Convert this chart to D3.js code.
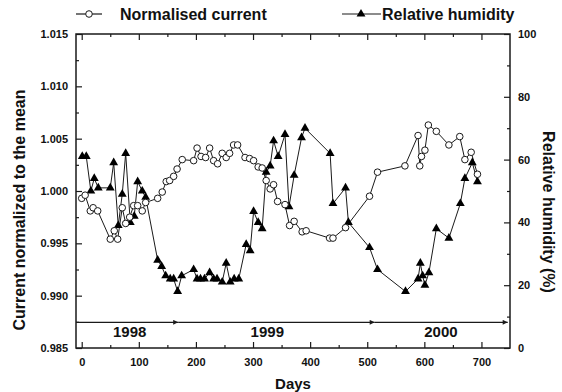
<!DOCTYPE html>
<html>
<head>
<meta charset="utf-8">
<script src="https://cdn.jsdelivr.net/npm/d3@7/dist/d3.min.js"></script>
<style>
  html, body { margin: 0; padding: 0; background: #fff; }
  svg { display: block; }
  text { font-family: "Liberation Sans", Arial, Helvetica, sans-serif; font-weight: bold; fill: #111; }
</style>
</head>
<body>
<svg id="chart" width="562" height="392"></svg>
<script>
// Normalised current (left axis)
const currentDays = [0, 6, 15, 20, 28, 50, 57, 63, 71, 77, 84, 91, 98, 106, 112, 133, 141, 148, 154, 161,
  167, 176, 196, 202, 209, 217, 224, 231, 238, 246, 253, 259, 266, 273, 286, 294, 301, 309, 316, 323,
  330, 336, 343, 356, 364, 372, 386, 393, 434, 440, 462, 504, 518, 566, 589, 592, 595, 601, 607, 621,
  643, 662, 671, 682, 693];
const currentValues = [0.9993, 0.9996, 0.9981, 0.9984, 0.9981, 0.9954, 0.9962, 0.9954, 0.9984, 0.9969,
  0.9975, 0.9986, 0.9986, 0.9981, 0.9989, 0.9993, 0.9999, 1.0009, 1.0010, 1.0014,
  1.0021, 1.0030, 1.0029, 1.0041, 1.0033, 1.0032, 1.0041, 1.0029, 1.0026, 1.0036,
  1.0032, 1.0036, 1.0044, 1.0044, 1.0032, 1.0031, 1.0029, 1.0023, 1.0022, 1.0010,
  1.0002, 1.0006, 0.9990, 0.9987, 0.9967, 0.9971, 0.9961, 0.9962, 0.9955, 0.9955,
  0.9965, 0.9995, 1.0018, 1.0024, 1.0053, 1.0024, 1.0033, 1.0039, 1.0063, 1.0057,
  1.0044, 1.0052, 1.0030, 1.0037, 1.0016];

// Relative humidity in % (right axis)
const humidityDays = [1, 8, 16, 22, 29, 50, 56, 64, 71, 77, 85, 92, 98, 106, 112, 133, 140, 147, 155, 161,
  168, 175, 196, 202, 208, 215, 224, 231, 237, 246, 253, 260, 267, 275, 288, 295, 301, 309, 316, 323,
  330, 336, 344, 356, 363, 372, 385, 391, 435, 440, 462, 467, 504, 518, 567, 589, 593, 597, 601, 608,
  621, 643, 663, 671, 684, 693];
const humidityValues = [61, 61, 50, 54, 51, 51, 59, 39, 49, 62, 40, 42, 53, 50, 48, 28, 26, 23, 22, 22,
  18, 23, 25, 22, 22, 22, 24, 22, 22, 21, 27, 21, 22, 22, 33, 31, 43.5, 40, 38, 56,
  58, 66, 61, 68, 45, 55, 67, 70, 62, 46, 51, 40, 32, 25, 18, 22, 27, 23, 20, 24,
  38, 35, 46, 54, 59, 53];

// Year bar along the bottom of the plot
const yearLabels = ["1998", "1999", "2000"];
const yearLabelDays = [84, 325, 629];
const yearEndDays = [169, 513, 746];
const yearBarLevel = 0.98745;

// Axis ticks
const xMajorTicks = [0, 100, 200, 300, 400, 500, 600, 700];
const xMinorTicks = [50, 150, 250, 350, 450, 550, 650];
const leftMajorTicks = [0.985, 0.990, 0.995, 1.000, 1.005, 1.010, 1.015];
const leftMinorTicks = [0.9875, 0.9925, 0.9975, 1.0025, 1.0075, 1.0125];
const rightMajorTicks = [0, 20, 40, 60, 80, 100];
const rightMinorTicks = [10, 30, 50, 70, 90];

const svg = d3.select("#chart");
const plot = { left: 76, right: 510, top: 34, bottom: 348 };
const ink = "#1a1a1a";

const x = d3.scaleLinear().domain([-10, 750]).range([plot.left, plot.right]);
const yL = d3.scaleLinear().domain([0.985, 1.015]).range([plot.bottom, plot.top]);
const yR = d3.scaleLinear().domain([0, 100]).range([plot.bottom, plot.top]);

function styleAxis(g) {
  g.select(".domain").remove();
  g.selectAll(".tick line").attr("stroke", ink).attr("stroke-width", 1.2);
  g.selectAll(".tick text").attr("font-size", 11).attr("fill", ink);
}

// bottom axis with labels, top axis mirrored
svg.append("g").attr("transform", `translate(0,${plot.bottom})`)
  .call(d3.axisBottom(x).tickValues(xMajorTicks).tickSize(-6).tickPadding(10).tickFormat(d3.format("d")))
  .call(styleAxis);
svg.append("g").attr("transform", `translate(0,${plot.bottom})`)
  .call(d3.axisBottom(x).tickValues(xMinorTicks).tickSize(-3).tickFormat(""))
  .call(styleAxis);
svg.append("g").attr("transform", `translate(0,${plot.top})`)
  .call(d3.axisTop(x).tickValues(xMajorTicks).tickSize(-6).tickFormat(""))
  .call(styleAxis);
svg.append("g").attr("transform", `translate(0,${plot.top})`)
  .call(d3.axisTop(x).tickValues(xMinorTicks).tickSize(-3).tickFormat(""))
  .call(styleAxis);

// left axis
svg.append("g").attr("transform", `translate(${plot.left},0)`)
  .call(d3.axisLeft(yL).tickValues(leftMajorTicks).tickSize(-6).tickPadding(8).tickFormat(d3.format(".3f")))
  .call(styleAxis);
svg.append("g").attr("transform", `translate(${plot.left},0)`)
  .call(d3.axisLeft(yL).tickValues(leftMinorTicks).tickSize(-3).tickFormat(""))
  .call(styleAxis);

// right axis
svg.append("g").attr("transform", `translate(${plot.right},0)`)
  .call(d3.axisRight(yR).tickValues(rightMajorTicks).tickSize(-6).tickPadding(8).tickFormat(d3.format("d")))
  .call(styleAxis);
svg.append("g").attr("transform", `translate(${plot.right},0)`)
  .call(d3.axisRight(yR).tickValues(rightMinorTicks).tickSize(-3).tickFormat(""))
  .call(styleAxis);

// plot frame
svg.append("rect")
  .attr("x", plot.left).attr("y", plot.top)
  .attr("width", plot.right - plot.left).attr("height", plot.bottom - plot.top)
  .attr("fill", "none").attr("stroke", ink).attr("stroke-width", 1.5);

// axis titles
svg.append("text")
  .attr("transform", `translate(${(plot.left + plot.right) / 2},389)`)
  .attr("text-anchor", "middle").attr("font-size", 15).text("Days");
svg.append("text")
  .attr("transform", `translate(25,210) rotate(-90)`)
  .attr("text-anchor", "middle").attr("font-size", 16).text("Current normalized to the mean");
svg.append("text")
  .attr("transform", `translate(543,212) rotate(90)`)
  .attr("text-anchor", "middle").attr("font-size", 16).text("Relative humidity (%)");

// year bar with arrows
const defs = svg.append("defs");
defs.append("marker")
  .attr("id", "arrowhead").attr("viewBox", "0 0 10 10")
  .attr("refX", 10).attr("refY", 5)
  .attr("markerWidth", 7).attr("markerHeight", 5)
  .attr("markerUnits", "userSpaceOnUse").attr("orient", "auto")
  .append("path").attr("d", "M0,0 L10,5 L0,10 Z").attr("fill", ink);

const yearStarts = [-10].concat(yearEndDays.slice(0, -1));
svg.append("g").selectAll("line").data(yearEndDays).join("line")
  .attr("x1", (d, i) => x(yearStarts[i]))
  .attr("x2", d => x(d))
  .attr("y1", yL(yearBarLevel)).attr("y2", yL(yearBarLevel))
  .attr("stroke", ink).attr("stroke-width", 1.2)
  .attr("marker-end", "url(#arrowhead)");
svg.append("g").selectAll("text").data(yearLabels).join("text")
  .attr("x", (d, i) => x(yearLabelDays[i]))
  .attr("y", yL(yearBarLevel) + 15)
  .attr("text-anchor", "middle").attr("font-size", 15)
  .text(d => d);

// series
const current = currentDays.map((d, i) => ({ day: d, value: currentValues[i] }));
const humidity = humidityDays.map((d, i) => ({ day: d, value: humidityValues[i] }));

const triangle = d3.symbol().type(d3.symbolTriangle).size(34);

svg.append("path").datum(humidity)
  .attr("fill", "none").attr("stroke", ink).attr("stroke-width", 1)
  .attr("d", d3.line().x(d => x(d.day)).y(d => yR(d.value)));
svg.append("path").datum(current)
  .attr("fill", "none").attr("stroke", ink).attr("stroke-width", 1)
  .attr("d", d3.line().x(d => x(d.day)).y(d => yL(d.value)));

svg.append("g").selectAll("path").data(humidity).join("path")
  .attr("transform", d => `translate(${x(d.day)},${yR(d.value)})`)
  .attr("d", triangle).attr("fill", "#000");
svg.append("g").selectAll("circle").data(current).join("circle")
  .attr("cx", d => x(d.day)).attr("cy", d => yL(d.value))
  .attr("r", 3.3).attr("fill", "#fff").attr("stroke", ink).attr("stroke-width", 1);

// legend
const legend = svg.append("g");
legend.append("line").attr("x1", 76).attr("x2", 102).attr("y1", 14).attr("y2", 14)
  .attr("stroke", ink).attr("stroke-width", 1.2);
legend.append("circle").attr("cx", 89).attr("cy", 14).attr("r", 3.3)
  .attr("fill", "#fff").attr("stroke", ink).attr("stroke-width", 1);
legend.append("text").attr("x", 120).attr("y", 20).attr("font-size", 16).text("Normalised current");

legend.append("line").attr("x1", 342).attr("x2", 381).attr("y1", 14).attr("y2", 14)
  .attr("stroke", ink).attr("stroke-width", 1.2);
legend.append("path").attr("transform", "translate(361,14)").attr("d", triangle).attr("fill", "#000");
legend.append("text").attr("x", 382).attr("y", 20).attr("font-size", 16).text("Relative humidity");
</script>
</body>
</html>
